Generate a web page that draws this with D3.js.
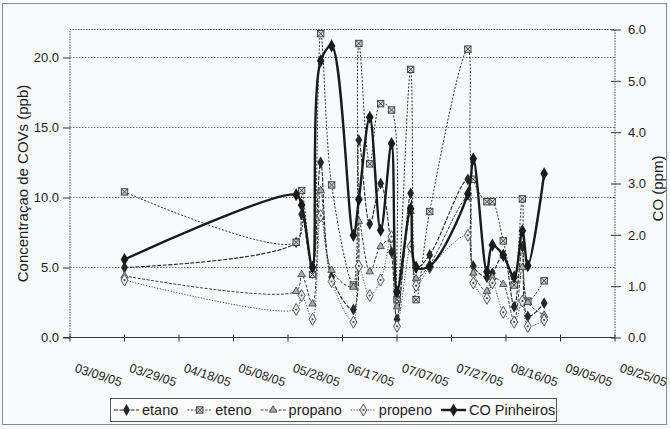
<!DOCTYPE html>
<html>
<head>
<meta charset="utf-8">
<script src="https://cdn.jsdelivr.net/npm/d3@7"></script>
<style>
  body { margin: 0; background: #f7f8f9; }
  text { font-family: "Liberation Sans", Arial, sans-serif; fill: #1e1e1e; }
</style>
</head>
<body>
<svg id="canvas" width="670" height="429"></svg>
<script>
// sampling dates (mm/dd/yy)
const dates = ["03/29/05","05/31/05","06/02/05","06/06/05","06/09/05","06/13/05","06/21/05","06/23/05",
  "06/27/05","07/01/05","07/05/05","07/07/05","07/12/05","07/14/05","07/19/05","08/02/05",
  "08/04/05","08/09/05","08/11/05","08/15/05","08/19/05","08/22/05","08/24/05","08/30/05"]

// COVs in ppb (left axis)
const etano   = [5.0, 6.8, 8.8, 4.6, 12.5, 4.3, 2.0, 14.1, 8.1, 11.0, 6.1, 1.3, 10.3, 5.0, 5.9, 11.3, 5.1, 4.3, 4.6, 5.9, 2.2, 6.5, 1.5, 2.45]
const eteno   = [10.4, 6.8, 10.5, 4.5, 21.7, 10.9, 3.75, 21.0, 12.4, 16.7, 16.25, 2.7, 19.15, 2.7, 9.0, 20.6, 11.3, 9.7, 9.7, 6.9, 3.75, 9.9, 2.6, 4.05]
const propano = [4.4, 3.3, 4.5, 2.4, 10.5, 4.8, 3.6, 8.3, 4.7, 6.5, 7.0, 2.2, 9.0, 4.2, 5.2, 10.0, 4.6, 3.3, 4.3, 3.8, 1.2, 5.0, 2.5, 1.6]
const propeno = [4.1, 2.0, 3.0, 1.3, 8.7, 4.0, 1.1, 5.1, 3.0, 4.1, 7.2, 0.8, 6.5, 3.7, 5.0, 7.3, 3.9, 2.8, 3.9, 1.8, 1.1, 2.6, 0.8, 1.25]
// CO in ppm (right axis)
const coPinheiros = [1.52, 2.78, 2.58, 1.37, 5.39, 5.68, 1.99, 2.69, 4.29, 2.09, 3.78, 0.89, 2.51, 1.37, 1.39, 2.8, 3.48, 1.28, 1.8, 1.6, 1.18, 2.08, 1.4, 3.19]

const xTickLabels = ["03/09/05","03/29/05","04/18/05","05/08/05","05/28/05","06/17/05","07/07/05","07/27/05","08/16/05","09/05/05","09/25/05"]
const leftTicks = [0, 5, 10, 15, 20]
const rightTicks = [0, 1, 2, 3, 4, 5, 6]

let parse = d3.timeParse("%m/%d/%y")
let svg = d3.select('#canvas')

let pLeft = 70, pRight = 615, pTop = 29.5, pBottom = 337.5

let x = d3.scaleTime()
  .domain([parse(xTickLabels[0]), parse(xTickLabels[xTickLabels.length - 1])])
  .range([pLeft, pRight])
let yL = d3.scaleLinear().domain([0, 22]).range([pBottom, pTop])
let yR = d3.scaleLinear().domain([0, 6]).range([pBottom, pTop])

// outer frame
svg.append('rect').attr('x', 2.5).attr('y', 3.5).attr('width', 664).attr('height', 421)
  .attr('fill', '#f9fafb').attr('stroke', '#8a8a8a')

// gridlines
svg.append('g').selectAll('line').data(leftTicks.filter(d => d > 0)).enter().append('line')
  .attr('x1', pLeft).attr('x2', pRight)
  .attr('y1', d => yL(d)).attr('y2', d => yL(d))
  .attr('stroke', '#555').attr('stroke-width', 0.8).attr('stroke-dasharray', '1.5,1.5')

// plot border (dotted) top/left/right
svg.append('path')
  .attr('d', `M${pLeft},${pBottom}V${pTop}H${pRight}V${pBottom}`)
  .attr('fill', 'none').attr('stroke', '#333').attr('stroke-width', 0.9).attr('stroke-dasharray', '1.5,1.2')

// left axis
let axL = d3.axisLeft(yL).tickValues(leftTicks).tickFormat(d3.format('.1f')).tickSize(7).tickPadding(4)
let gL = svg.append('g').attr('transform', `translate(${pLeft},0)`).call(axL)
gL.select('.domain').remove()
gL.selectAll('line').attr('stroke', '#333')
gL.selectAll('text').style('font-size', '13px').attr('fill', '#1e1e1e')

// right axis
let axR = d3.axisRight(yR).tickValues(rightTicks).tickFormat(d3.format('.1f')).tickSize(6).tickPadding(7)
let gR = svg.append('g').attr('transform', `translate(${pRight},0)`).call(axR)
gR.select('.domain').remove()
gR.selectAll('line').attr('x1', -4).attr('stroke', '#333')
gR.selectAll('text').style('font-size', '13px').attr('fill', '#1e1e1e')

// bottom axis
let tickDates = xTickLabels.map(parse)
svg.append('line').attr('x1', pLeft - 7).attr('x2', pRight).attr('y1', pBottom).attr('y2', pBottom)
  .attr('stroke', '#333').attr('stroke-width', 1.2)
svg.append('g').selectAll('line').data(tickDates).enter().append('line')
  .attr('x1', d => x(d)).attr('x2', d => x(d))
  .attr('y1', pBottom - 3).attr('y2', pBottom + 4)
  .attr('stroke', '#333')
svg.append('g').selectAll('text').data(xTickLabels).enter().append('text')
  .attr('transform', d => `translate(${x(parse(d)) + 4},${pBottom + 34}) rotate(18)`)
  .style('font-size', '12.5px')
  .text(d => d)

// axis titles
svg.append('text')
  .attr('transform', `translate(23,${(pTop + pBottom) / 2}) rotate(-90)`)
  .attr('text-anchor', 'middle').attr('dy', '0.35em')
  .style('font-size', '15px')
  .text('Concentraçao de COVs (ppb)')
svg.append('text')
  .attr('transform', `translate(658,${(pTop + pBottom) / 2 + 5}) rotate(-90)`)
  .attr('text-anchor', 'middle').attr('dy', '0.35em')
  .style('font-size', '15px')
  .text('CO (ppm)')

// series
let series = [
  { name: 'etano', values: etano, axis: yL, stroke: '#262626', width: 1.1, dash: '4,1.5', marker: 'diamond' },
  { name: 'eteno', values: eteno, axis: yL, stroke: '#333', width: 1, dash: '2,1.6', marker: 'xsquare' },
  { name: 'propano', values: propano, axis: yL, stroke: '#444', width: 1, dash: '3,1.5', marker: 'triangle' },
  { name: 'propeno', values: propeno, axis: yL, stroke: '#505050', width: 1, dash: '1.2,1.6', marker: 'hdiamond' },
  { name: 'CO Pinheiros', values: coPinheiros, axis: yR, stroke: '#1a1a1a', width: 2.4, dash: null, marker: 'codiamond' }
]

let drawMarker = (g, type, cx, cy) => {
  let m = g.append('g').attr('transform', `translate(${cx},${cy})`)
  if (type === 'diamond') {
    m.append('path').attr('d', d3.symbol(d3.symbolDiamond, 40)()).attr('fill', '#262626')
  } else if (type === 'codiamond') {
    m.append('path').attr('d', d3.symbol(d3.symbolDiamond, 50)()).attr('fill', '#1a1a1a')
  } else if (type === 'xsquare') {
    m.append('rect').attr('x', -3.2).attr('y', -3.2).attr('width', 6.4).attr('height', 6.4)
      .attr('fill', '#d0d0d0').attr('stroke', '#3a3a3a').attr('stroke-width', 0.9)
    m.append('path').attr('d', 'M-3.2,-3.2L3.2,3.2M3.2,-3.2L-3.2,3.2').attr('stroke', '#3a3a3a').attr('stroke-width', 0.9)
  } else if (type === 'triangle') {
    m.append('path').attr('d', d3.symbol(d3.symbolTriangle, 24)()).attr('fill', '#aaa').attr('stroke', '#3a3a3a').attr('stroke-width', 0.8)
  } else if (type === 'hdiamond') {
    m.append('path').attr('d', d3.symbol(d3.symbolDiamond, 42)()).attr('fill', '#eee').attr('stroke', '#4a4a4a').attr('stroke-width', 0.9)
    m.append('circle').attr('r', 1.1).attr('fill', '#4a4a4a')
  }
}

let lineGen = d3.line().curve(d3.curveCatmullRom.alpha(0.5))

series.forEach(s => {
  let pts = dates.map((d, i) => [x(parse(d)), s.axis(s.values[i])])
  svg.append('path')
    .attr('d', lineGen(pts))
    .attr('fill', 'none')
    .attr('stroke', s.stroke)
    .attr('stroke-width', s.width)
    .attr('stroke-dasharray', s.dash)
  let g = svg.append('g')
  pts.forEach(p => drawMarker(g, s.marker, p[0], p[1]))
})

// legend
let legend = svg.append('g')
legend.append('rect').attr('x', 110.5).attr('y', 398.5).attr('width', 446).attr('height', 23)
  .attr('fill', '#fbfbfb').attr('stroke', '#555')
let lx = 114
series.forEach(s => {
  legend.append('line').attr('x1', lx).attr('x2', lx + 25).attr('y1', 410).attr('y2', 410)
    .attr('stroke', s.stroke).attr('stroke-width', s.width).attr('stroke-dasharray', s.dash)
  drawMarker(legend, s.marker, lx + 12.5, 410)
  let t = legend.append('text').attr('x', lx + 28).attr('y', 415).style('font-size', '14.5px').text(s.name)
  lx += 28 + t.node().getComputedTextLength() + 9
})
</script>
</body>
</html>
